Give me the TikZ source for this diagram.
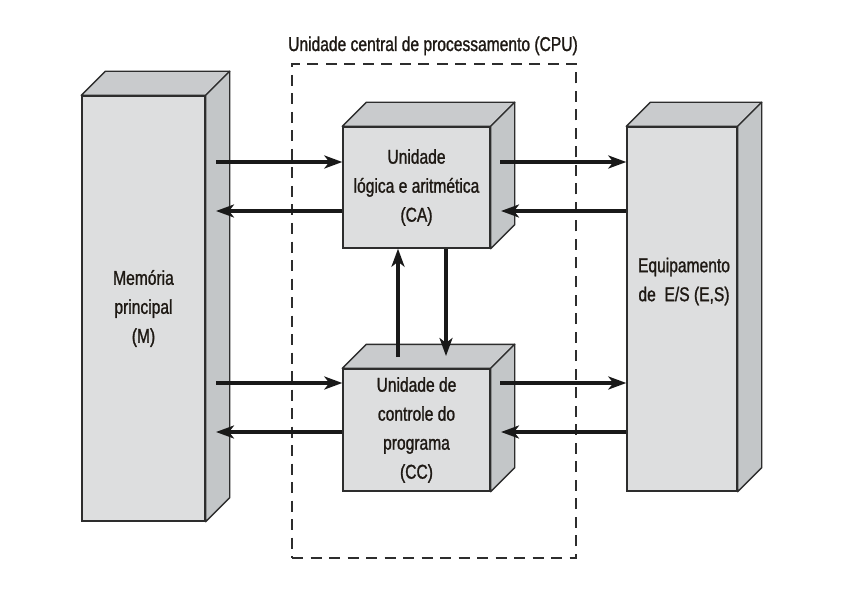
\documentclass[tikz,border=0pt]{standalone}
\usepackage{fontspec}
\setmainfont{Liberation Sans}[FakeStretch=0.78,FakeBold=1.2]
\usetikzlibrary{calc,arrows.meta}
\definecolor{frontc}{RGB}{221,222,223}
\definecolor{topc}{RGB}{201,203,205}
\definecolor{sidec}{RGB}{195,198,200}
\definecolor{edgec}{RGB}{45,45,45}
\definecolor{textc}{RGB}{30,25,20}
\tikzset{
  box/.style={draw=edgec, line width=1.4pt, fill=frontc, inner sep=0pt, align=center,
    text=textc, font=\fontsize{20}{29}\selectfont},
  topface/.style={draw=edgec, line width=1.4pt, fill=topc, line join=round},
  sideface/.style={draw=edgec, line width=1.4pt, fill=sidec, line join=round},
  arr/.style={line width=3.2pt, draw=black!90, -{Stealth[length=18pt,width=13pt,inset=5pt]}},
  cpubox/.style={draw=edgec, line width=1.2pt, dash pattern=on 11pt off 7.5pt},
  lbl/.style={font=\fontsize{20}{29}\selectfont, text=textc, align=center, inner sep=0pt}
}
\newcommand{\solid}[1]{%
  \draw[topface] (#1.north west) -- ($(#1.north west)+(24,-24)$) -- ($(#1.north east)+(24,-24)$) -- (#1.north east) -- cycle;
  \draw[sideface] (#1.north east) -- ($(#1.north east)+(24,-24)$) -- ($(#1.south east)+(24,-24)$) -- (#1.south east) -- cycle;
}
\begin{document}
\begin{tikzpicture}[x=1pt,y=-1pt]
\useasboundingbox (0,0) rectangle (856,612);
\fill[white] (0,0) rectangle (856,612);

% CPU dashed box and title
\node[cpubox, minimum width=284pt, minimum height=494pt, inner sep=0pt] (cpu) at (434,311) {};
\node[lbl, anchor=base] (cputitle) at (433,51) {Unidade central de processamento (CPU)};

% boxes (front faces)
\node[box, minimum width=123pt, minimum height=425pt] (mem) at (143.5,308.5) {Memória\\principal\\(M)};
\node[box, minimum width=147pt, minimum height=121pt] (alu) at (416.5,187.5) {Unidade\\lógica e aritmética\\(CA)};
\node[box, minimum width=147pt, minimum height=122pt] (cc) at (416.5,430) {Unidade de\\controle do\\programa\\(CC)};
\node[box, minimum width=110pt, minimum height=364pt] (es) at (682,309) {};
\node[lbl] (estext) at (684,281.5) {Equipamento\\de\ \ E/S (E,S)};

\solid{mem}
\solid{alu}
\solid{cc}
\solid{es}

% free ends inside side/top faces
\coordinate (m1) at (216,162);
\coordinate (m2) at (216,211);
\coordinate (m3) at (216,383);
\coordinate (m4) at (216,432);
\coordinate (a1) at (500,162);
\coordinate (a2) at (501,211);
\coordinate (c1) at (500,383);
\coordinate (c2) at (501,432);
\coordinate (v1) at (398,357);
\coordinate (v2) at (446,356);

% memory <-> ALU
\draw[arr] (m1) -- (alu.west |- m1);
\draw[arr] (alu.west |- m2) -- (m2);
% ALU <-> E/S
\draw[arr] (a1) -- (es.west |- a1);
\draw[arr] (es.west |- a2) -- (a2);
% memory <-> CC
\draw[arr] (m3) -- (cc.west |- m3);
\draw[arr] (cc.west |- m4) -- (m4);
% CC <-> E/S
\draw[arr] (c1) -- (es.west |- c1);
\draw[arr] (es.west |- c2) -- (c2);
% CC <-> ALU
\draw[arr] (v1) -- (alu.south -| v1);
\draw[arr] (alu.south -| v2) -- (v2);
\end{tikzpicture}
\end{document}
